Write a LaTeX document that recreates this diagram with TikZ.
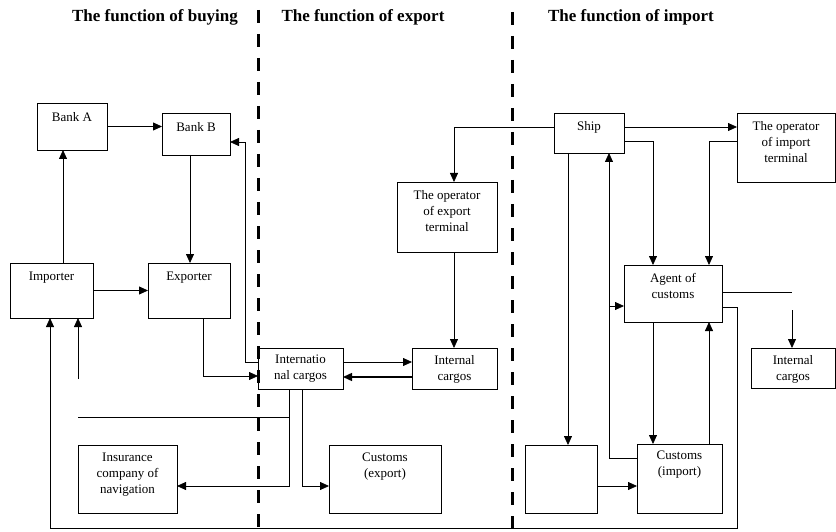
\documentclass[tikz,border=0pt]{standalone}
\usepackage{fontspec}
\setmainfont{Liberation Serif}
\usetikzlibrary{arrows.meta}
\begin{document}
\begin{tikzpicture}[x=1pt,y=-1pt,
  box/.style={draw, line width=0.9pt, rectangle, inner sep=0pt, outer sep=0pt, anchor=north west},
  lbl/.style={font=\fontsize{13}{16}\selectfont, align=center, inner sep=0pt, anchor=north},
  head/.style={font=\fontsize{17}{20}\selectfont\bfseries, inner sep=0pt},
  conn/.style={line width=0.8pt},
  arr/.style={line width=0.8pt, -{Triangle[length=9pt,width=8pt]}},
  sep/.style={line width=3pt, dash pattern=on 13pt off 11pt}]
\useasboundingbox (0,0) rectangle (836,532);
% headings
\node[head] (h1) at (155,17) {The function of buying};
\node[head] (h2) at (363,17) {The function of export};
\node[head] (h3) at (631,17) {The function of import};
% separators
\coordinate (s1a) at (258,10); \coordinate (s1b) at (258,532);
\coordinate (s2a) at (512,12); \coordinate (s2b) at (512,532);
\draw[sep] (s1a) -- (s1b);
\draw[sep] (s2a) -- (s2b);
% boxes
\node[box, minimum width=70, minimum height=47] (bankA) at (37,103) {};
\node[lbl] (bankAt) at ([yshift=-9pt]bankA.north) {Bank A};
\node[box, minimum width=68, minimum height=42] (bankB) at (162,113) {};
\node[lbl] (bankBt) at ([yshift=-9pt]bankB.north) {Bank B};
\node[box, minimum width=83, minimum height=55] (importer) at (10,263) {};
\node[lbl] (importert) at ([yshift=-9pt]importer.north) {Importer};
\node[box, minimum width=82, minimum height=55] (exporter) at (148,263) {};
\node[lbl] (exportert) at ([yshift=-9pt]exporter.north) {Exporter};
\node[box, minimum width=100, minimum height=70] (exportop) at (397,182) {};
\node[lbl] (exportopt) at ([yshift=-8pt]exportop.north) {The operator\\of export\\terminal};
\node[box, minimum width=85, minimum height=41] (intl) at (258,348) {};
\node[lbl] (intlt) at ([yshift=-7pt]intl.north) {Internatio\\nal cargos};
\node[box, minimum width=85, minimum height=41] (internal) at (412,348) {};
\node[lbl] (internalt) at ([yshift=-7pt]internal.north) {Internal\\cargos};
\node[box, minimum width=99, minimum height=68] (insurance) at (78,445) {};
\node[lbl] (insurancet) at ([yshift=-8pt]insurance.north) {Insurance\\company of\\navigation};
\node[box, minimum width=112, minimum height=68] (customsE) at (329,445) {};
\node[lbl] (customsEt) at ([yshift=-8pt]customsE.north) {Customs\\(export)};
\node[box, minimum width=70, minimum height=40] (ship) at (554,113) {};
\node[lbl] (shipt) at ([yshift=-8pt]ship.north) {Ship};
\node[box, minimum width=98, minimum height=69] (importop) at (737,113) {};
\node[lbl] (importopt) at ([yshift=-8pt]importop.north) {The operator\\of import\\terminal};
\node[box, minimum width=98, minimum height=57] (agent) at (624,265) {};
\node[lbl] (agentt) at ([yshift=-8pt]agent.north) {Agent of\\customs};
\node[box, minimum width=72, minimum height=68] (blank) at (525,445) {};
\node[box, minimum width=85, minimum height=69] (customsI) at (637,444) {};
\node[lbl] (customsIt) at ([yshift=-7pt]customsI.north) {Customs\\(import)};
\node[box, minimum width=84, minimum height=40] (internalI) at (751,348) {};
\node[lbl] (internalIt) at ([yshift=-7pt]internalI.north) {Internal\\cargos};
% connectors: buying
\draw[arr] (bankA.east) -- (bankA.east -| bankB.west);
\draw[arr] (importer.north -| 63,0) -- (bankA.south -| 63,0);
\draw[arr] (bankB.south -| 190,0) -- (exporter.north -| 190,0);
\draw[arr] (importer.east) -- (importer.east -| exporter.west);
\draw[arr] (intl.west |- 0,362) -- (245,362) -- (245,142) -- (bankB.east |- 0,142);
\draw[arr] (exporter.south -| 203,0) |- (intl.west |- 0,376);
% export
\draw[arr] (intl.east |- 0,362) -- (internal.west |- 0,362);
\draw[arr, line width=1.4pt] (internal.west |- 0,377) -- (intl.east |- 0,377);
\draw[arr] (ship.west |- 0,127) -| (exportop.north -| 454,0);
\draw[arr] (exportop.south -| 454,0) -- (internal.north -| 454,0);
\draw[arr] (intl.south -| 289,0) |- (insurance.east |- 0,486);
\draw[arr] (intl.south -| 302,0) |- (customsE.west |- 0,486);
\coordinate (c417a) at (78,417); \coordinate (c417b) at (289,417);
\draw[conn] (c417a) -- (c417b);
\coordinate (c379) at (78,379);
\draw[arr] (c379) -- (importer.south -| 78,0);
% import
\draw[arr] (ship.east |- 0,127) -- (importop.west |- 0,127);
\draw[arr] (ship.east |- 0,141) -| (agent.north -| 653,0);
\draw[arr] (importop.west |- 0,141) -| (agent.north -| 709,0);
\draw[arr] (customsI.west |- 0,458) -| (ship.south -| 609,0);
\coordinate (br) at (609,306);
\draw[arr] (br) -- (agent.west |- 0,306);
\draw[arr] (ship.south -| 568,0) -- (blank.north -| 568,0);
\draw[arr] (blank.east |- 0,486) -- (customsI.west |- 0,486);
\draw[arr] (agent.south -| 653,0) -- (customsI.north -| 653,0);
\draw[arr] (customsI.north -| 709,0) -- (agent.south -| 709,0);
\coordinate (aend) at (792,292);
\draw[conn] (agent.east |- 0,292) -- (aend);
\coordinate (iin) at (792,310);
\draw[arr] (iin) -- (internalI.north -| 792,0);
\draw[arr] (agent.east |- 0,307) -- (737,307) -- (737,528) -- (50,528) -- (importer.south -| 50,0);
\end{tikzpicture}
\end{document}
